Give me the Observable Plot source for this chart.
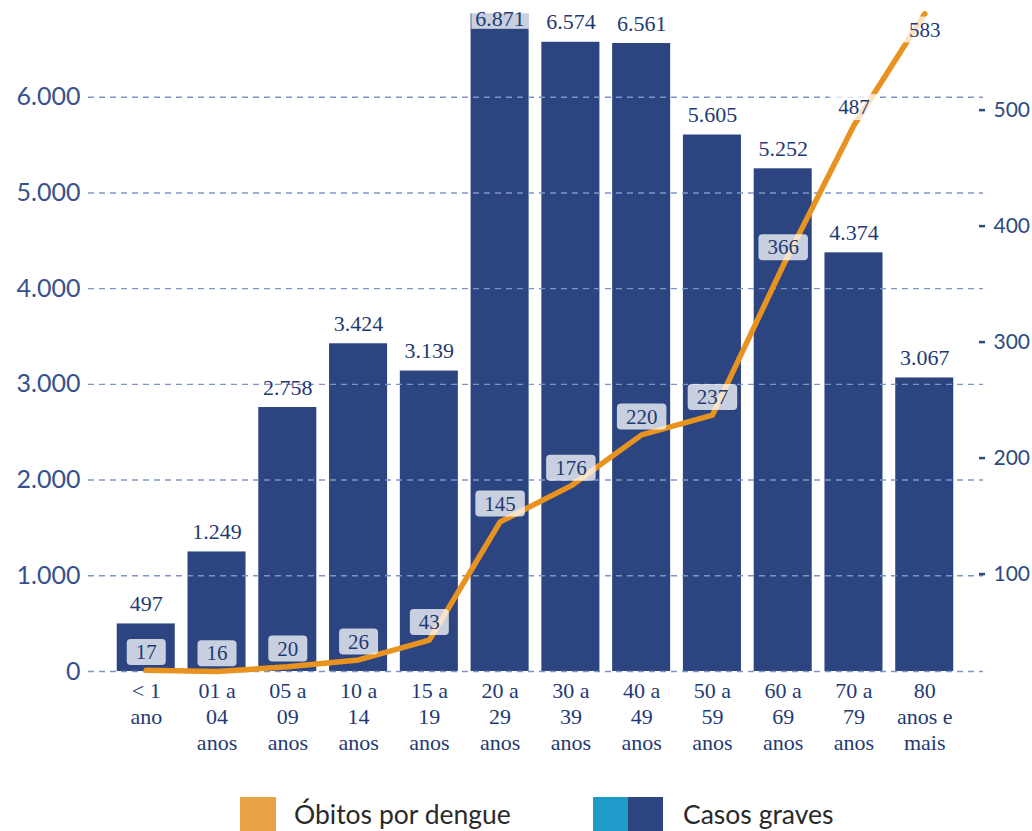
<!DOCTYPE html>
<html><head><meta charset="utf-8">
<script src="https://cdn.jsdelivr.net/npm/d3@7"></script>
<script src="https://cdn.jsdelivr.net/npm/@observablehq/plot@0.6"></script>
<style>
body{margin:0;background:#fff;}
#chart{width:1032px;height:780px;}
#legend{position:relative;width:1032px;height:51px;font-family:Lato,"Open Sans",sans-serif;font-size:26.5px;color:#2a2a2a;}
#legend .item{position:absolute;top:17px;height:34px;display:flex;align-items:center;}
#legend .sw{display:inline-block;width:36px;height:34px;}
</style></head><body>
<div id="chart"></div>
<div id="legend"></div>
<script>
// ---- data ----
const ageGroups = ["< 1\nano","01 a\n04\nanos","05 a\n09\nanos","10 a\n14\nanos","15 a\n19\nanos","20 a\n29\nanos","30 a\n39\nanos","40 a\n49\nanos","50 a\n59\nanos","60 a\n69\nanos","70 a\n79\nanos","80\nanos e\nmais"];
const severeCases = [497,1249,2758,3424,3139,6871,6574,6561,5605,5252,4374,3067];
const deaths = [17,16,20,26,43,145,176,220,237,366,487,583];
const leftTicks = [0,1000,2000,3000,4000,5000,6000];
const rightTicks = [100,200,300,400,500];
const seriesNames = ["Óbitos por dengue","Casos graves"];
const seriesColors = ["#e8a347",["#1e9bc8","#2c4580"]];

// ---- helpers ----
const ptBR = d3.formatLocale({decimal:",", thousands:".", grouping:[3], currency:["R$",""]});
const fmt = ptBR.format(",d");
const dMin = d3.min(deaths), dMax = d3.max(deaths), cMax = d3.max(severeCases);
const toLeft = d => (d - dMin) / (dMax - dMin) * cMax;
const fromLeft = v => v / cMax * (dMax - dMin) + dMin;
const rows = ageGroups.map((g,i)=>({group:g, cases:severeCases[i], deaths:deaths[i], dl:toLeft(deaths[i])}));
const maxI = severeCases.indexOf(cMax);
const lastI = rows.length - 1;
const navy = "#2c4580", ink = "#1f3a73", orange = "#e8931f";

const plot = Plot.plot({
  width:1032, height:780, marginLeft:104, marginRight:66, marginTop:1, marginBottom:109,
  style:{background:"#fff", fontFamily:"'Liberation Serif', serif", overflow:"visible"},
  x:{domain:ageGroups, padding:0.18, round:false, label:null, axis:null},
  y:{domain:[0,7000], label:null, axis:null},
  marks:[
    Plot.barY(rows,{x:"group", y:"cases", fill:navy}),
    Plot.ruleY(leftTicks,{stroke:"#7d95c6", strokeWidth:1.4, strokeDasharray:"6,5", insetLeft:-16, insetRight:-17}),
    Plot.axisX({tickSize:0, tickPadding:8, fontSize:22, lineHeight:1.18, fill:ink, fontFamily:"'Liberation Serif', serif", label:null}),
    Plot.axisY(leftTicks,{anchor:"left", tickSize:0, tickPadding:24, tickFormat:fmt, fontSize:25, fontFamily:"Lato, sans-serif", fill:"#35528e", label:null}),
    Plot.axisY(rightTicks.map(toLeft),{anchor:"right", tickSize:6, tickPadding:9, dx:12, strokeWidth:2.5, stroke:"#2b4a80", tickFormat:v=>String(Math.round(fromLeft(v))), fontSize:21, fontFamily:"Lato, sans-serif", fill:"#2b4a80", label:null}),
    Plot.line(rows,{x:"group", y:"dl", stroke:orange, strokeWidth:5.5, strokeLinecap:"round", strokeLinejoin:"round"}),
    Plot.text(rows.filter((d,i)=>i!==lastI),{x:"group", y:"dl", text:d=>String(d.deaths), dy:-18, fontSize:21, fill:ink, ariaDescription:"boxed"}),
    Plot.text(rows.filter((d,i)=>i===lastI),{x:"group", y:"dl", text:d=>String(d.deaths), dy:16, fontSize:21, fill:ink, ariaDescription:"boxed"}),
    Plot.text(rows.filter((d,i)=>i!==maxI),{x:"group", y:"cases", text:d=>fmt(d.cases), dy:-13, lineAnchor:"bottom", fontSize:22, fill:ink}),
    Plot.text(rows.filter((d,i)=>i===maxI),{x:"group", y:"cases", text:d=>fmt(d.cases), dy:12, lineAnchor:"bottom", fontSize:22, fill:ink, ariaDescription:"boxedbar"})
  ]
});
document.getElementById("chart").appendChild(plot);

// translucent label boxes behind boxed texts
const NS = "http://www.w3.org/2000/svg";
plot.querySelectorAll('g[aria-description^="boxed"]').forEach(g=>{
  const bar = g.getAttribute("aria-description") === "boxedbar";
  g.querySelectorAll("text").forEach(t=>{
    const b = t.getBBox();
    const r = document.createElementNS(NS,"rect");
    const px = bar ? 4 : 9;
    const h = bar ? 17 : 26;
    const cy = b.y + b.height/2;
    r.setAttribute("x", b.x - px);
    r.setAttribute("width", b.width + 2*px);
    r.setAttribute("y", bar ? b.y + 6 : cy - h/2);
    r.setAttribute("height", h);
    r.setAttribute("rx", bar ? 0 : 4);
    r.setAttribute("fill", "#fff");
    r.setAttribute("fill-opacity", 0.74);
    if (t.getAttribute("transform")) r.setAttribute("transform", t.getAttribute("transform"));
    t.parentNode.insertBefore(r, t);
  });
});

// legend
const legend = document.getElementById("legend");
const lefts = [240, 593];
const textLefts = [294, 683];
seriesNames.forEach((name,i)=>{
  const sw = document.createElement("div");
  sw.className = "item"; sw.style.left = lefts[i] + "px";
  const cols = [].concat(seriesColors[i]);
  cols.forEach(c=>{ const s=document.createElement("span"); s.className="sw"; s.style.background=c; s.style.width=(cols.length>1?35:36)+"px"; sw.appendChild(s); });
  legend.appendChild(sw);
  const tx = document.createElement("div");
  tx.className = "item"; tx.style.left = textLefts[i] + "px"; tx.textContent = name;
  legend.appendChild(tx);
});
</script>
</body></html>
